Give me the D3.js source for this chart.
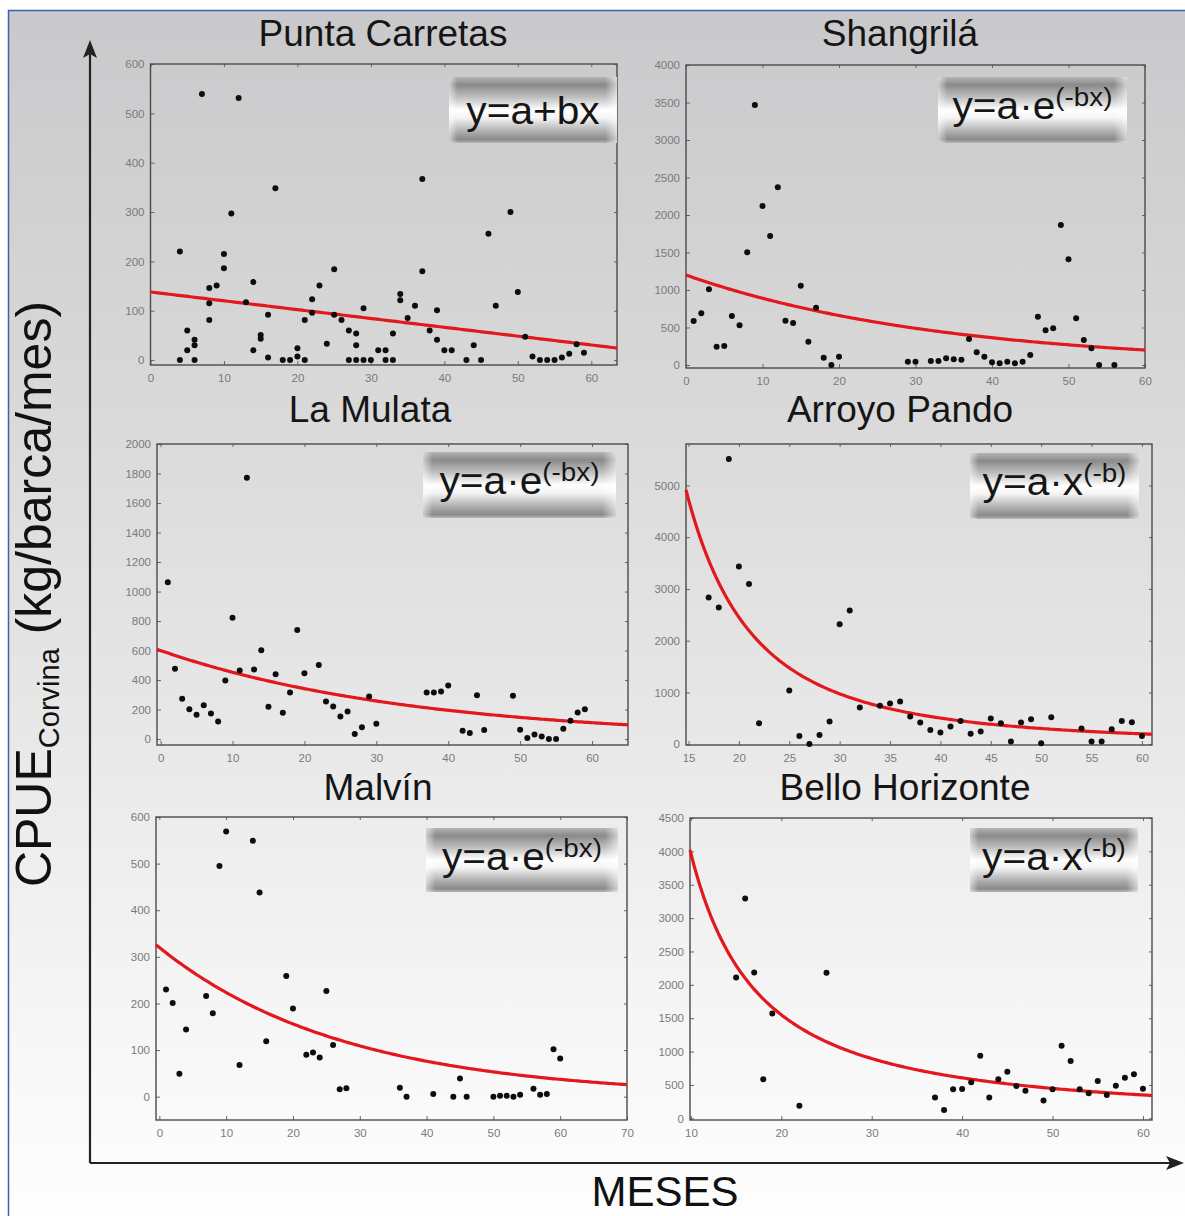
<!DOCTYPE html>
<html>
<head>
<meta charset="utf-8">
<script src="https://cdn.jsdelivr.net/npm/d3@7"></script>
<style>
  body { margin: 0; background: #fff; }
  svg { display: block; font-family: "Liberation Sans", Arial, sans-serif; }
</style>
</head>
<body>
<div id="chart"></div>
<script>
// ---- data: [mes, CPUE] ----
const puntaCarretas = [[4,0],[4,220],[5,20],[5,60],[6,41],[6,30],[6,0],[7,539],[8,146],[8,115],[8,81],[9,151],
  [10,215],[10,186],[11,297],[12,531],[13,117],[14,158],[14,20],[15,51],[15,43],[16,92],[16,5],[17,348],[18,0],
  [19,0],[20,24],[20,7],[21,0],[21,81],[22,123],[22,96],[23,151],[24,33],[25,184],[25,92],[26,81],[27,60],[27,0],
  [28,54],[28,30],[28,0],[29,105],[29,0],[30,0],[31,20],[32,20],[32,0],[33,54],[33,0],[34,134],[34,121],[35,85],
  [36,110],[37,367],[37,180],[38,60],[39,101],[39,41],[40,20],[41,20],[43,0],[44,30],[45,0],[46,256],[47,110],
  [49,300],[50,138],[51,47],[52,7],[53,0],[54,0],[55,0],[56,5],[57,13],[58,32],[59,15]]
const shangrila = [[1,587],[2,689],[3,1009],[4,244],[5,253],[6,653],[7,529],[8,1502],[9,3467],[10,2120],[11,1720],
  [12,2369],[13,591],[14,560],[15,1058],[16,311],[17,764],[18,98],[19,0],[20,111],[29,44],[30,44],[32,53],[33,53],
  [34,89],[35,76],[36,71],[37,347],[38,169],[39,111],[40,36],[41,22],[42,44],[43,22],[44,44],[45,133],[46,644],
  [47,462],[48,489],[49,1867],[50,1409],[51,622],[52,333],[53,222],[54,0],[56,0]]
const laMulata = [[1,1063],[2,476],[3,273],[4,203],[5,165],[6,230],[7,174],[8,120],[9,397],[10,822],[11,465],
  [12,1772],[13,472],[14,603],[15,219],[16,440],[17,178],[18,316],[19,740],[20,447],[22,503],[23,255],[24,221],
  [25,153],[26,187],[27,34],[28,81],[29,289],[30,104],[37,316],[38,316],[39,323],[40,363],[42,56],[43,41],[44,298],
  [45,61],[49,293],[50,63],[51,7],[52,32],[53,18],[54,0],[55,0],[56,70],[57,124],[58,181],[59,203]]
const arroyoPando = [[17,2835],[18,2642],[19,5509],[20,3434],[21,3093],[22,406],[25,1037],[26,161],[27,6],[28,180],
  [29,438],[30,2319],[31,2584],[32,709],[34,741],[35,786],[36,825],[37,535],[38,419],[39,277],[40,225],[41,341],
  [42,451],[43,200],[44,245],[45,496],[46,406],[47,52],[48,419],[49,483],[50,19],[51,522],[54,303],[55,52],[56,52],
  [57,290],[58,451],[59,425],[60,161]]
const malvin = [[1,230],[2,201],[3,49],[4,144],[7,216],[8,179],[9,495],[10,569],[12,68],[14,549],[15,438],[16,119],
  [19,259],[20,189],[22,90],[23,95],[24,84],[25,227],[26,111],[27,16],[28,18],[36,19],[37,0],[41,6],[44,0],[45,39],
  [46,0],[50,0],[51,2],[52,2],[53,0],[54,4],[56,17],[57,4],[58,6],[59,102],[60,82]]
const belloHorizonte = [[15,2111],[16,3293],[17,2186],[18,584],[19,1572],[22,190],[25,2181],[37,314],[38,125],
  [39,434],[40,439],[41,539],[42,938],[43,314],[44,584],[45,699],[46,484],[47,414],[49,269],[50,434],[51,1088],
  [52,858],[53,434],[54,374],[55,559],[56,349],[57,489],[58,609],[59,659],[60,444]]

const titles = ['Punta Carretas', 'Shangrilá', 'La Mulata', 'Arroyo Pando', 'Malvín', 'Bello Horizonte']
const series = [puntaCarretas, shangrila, laMulata, arroyoPando, malvin, belloHorizonte]
// fitted model per panel and its parameters a, b
const fitType = ['lin', 'exp', 'exp', 'pow', 'exp', 'pow']
const fitA = [138, 1200, 600, 2270000, 320, 89860]
const fitB = [-1.79, 0.0299, 0.0281, 2.28, 0.0359, 1.355]
const formula = [['y=a+bx', ''], ['y=a·e', '(-bx)'], ['y=a·e', '(-bx)'], ['y=a·x', '(-b)'], ['y=a·e', '(-bx)'], ['y=a·x', '(-b)']]
// axis ticks
const xTicks = [d3.range(0, 61, 10), d3.range(0, 61, 10), d3.range(0, 61, 10), d3.range(15, 61, 5), d3.range(0, 71, 10), d3.range(10, 61, 10)]
const yTicks = [d3.range(0, 601, 100), d3.range(0, 4001, 500), d3.range(0, 2001, 200), d3.range(0, 5001, 1000), d3.range(0, 601, 100), d3.range(0, 4501, 500)]
const xDomains = [[0, 63.5], [0, 60], [-0.5, 65], [14.75, 61], [-0.5, 70], [9.9, 61]]
const yDomains = [[-10, 600], [-40, 4000], [-40, 2000], [-15, 5800], [-50, 600], [-25, 4500]]

// ---- layout (pixels) ----
const frames = [
  { x0: 150.5, y0: 64, x1: 617, y1: 365, tx: 383, ty: 46, box: [449, 77, 168, 66] },
  { x0: 686, y0: 65, x1: 1145, y1: 368, tx: 900, ty: 46, box: [938, 77, 189, 66] },
  { x0: 157, y0: 444, x1: 628, y1: 745, tx: 370, ty: 422, box: [423, 452, 193, 66] },
  { x0: 686, y0: 444, x1: 1152, y1: 745, tx: 900, ty: 422, box: [970, 453, 169, 66] },
  { x0: 156, y0: 817, x1: 627, y1: 1120, tx: 378, ty: 800, box: [426, 828, 192, 64] },
  { x0: 690, y0: 818, x1: 1152, y1: 1120, tx: 905, ty: 800, box: [970, 828, 168, 64] }
]

const W = 1185, H = 1216
const svg = d3.select('#chart').append('svg')
    .attr('width', W)
    .attr('height', H)
const defs = svg.append('defs')

const bg = defs.append('linearGradient').attr('id', 'bgGrad')
    .attr('x1', 0).attr('y1', 0).attr('x2', 0).attr('y2', 1)
bg.selectAll('stop').data([[0, '#c9c9cb'], [0.3, '#d8d8d9'], [0.55, '#e6e6e6'], [0.8, '#f5f5f5'], [1, '#ffffff']])
  .join('stop').attr('offset', d => d[0]).attr('stop-color', d => d[1])

const metal = defs.append('linearGradient').attr('id', 'metal')
    .attr('x1', 0).attr('y1', 0).attr('x2', 0).attr('y2', 1)
metal.selectAll('stop').data([[0, '#b4b4b4'], [0.12, '#8a8a8a'], [0.3, '#bdbdbd'], [0.5, '#ffffff'], [0.62, '#f4f4f4'],
    [0.85, '#a6a6a6'], [0.95, '#8a8a8a'], [1, '#b8b8b8']])
  .join('stop').attr('offset', d => d[0]).attr('stop-color', d => d[1])

const sheen = defs.append('linearGradient').attr('id', 'sheen')
    .attr('x1', 0).attr('y1', 0).attr('x2', 1).attr('y2', 0)
sheen.selectAll('stop').data([[0, 0.55], [0.05, 0], [0.93, 0], [1, 0.6]])
  .join('stop').attr('offset', d => d[0]).attr('stop-color', '#fff').attr('stop-opacity', d => d[1])

// background with blue frame
svg.append('rect')
    .attr('x', 8.5).attr('y', 10.5)
    .attr('width', W + 20).attr('height', H + 20)
    .attr('fill', 'url(#bgGrad)')
    .attr('stroke', '#3f5fb4')
    .attr('stroke-width', 1.5)

// big axes with arrows
const axisG = svg.append('g').attr('class', 'bigAxes')
axisG.append('line').attr('x1', 90).attr('y1', 1163).attr('x2', 90).attr('y2', 50)
    .attr('stroke', '#222').attr('stroke-width', 2.2)
axisG.append('line').attr('x1', 90).attr('y1', 1163).attr('x2', 1172).attr('y2', 1163)
    .attr('stroke', '#222').attr('stroke-width', 2.2)
axisG.append('path').attr('d', 'M90,40 L83,58 L90,54 L97,58 Z').attr('fill', '#222')
axisG.append('path').attr('d', 'M1184,1163 L1166,1156 L1170,1163 L1166,1170 Z').attr('fill', '#222')

axisG.append('text')
    .attr('x', 665).attr('y', 1206)
    .attr('text-anchor', 'middle')
    .attr('font-size', 42)
    .attr('fill', '#111')
    .text('MESES')

const yLab = axisG.append('text')
    .attr('transform', 'translate(51,594) rotate(-90)')
    .attr('text-anchor', 'middle')
    .attr('font-size', 50)
    .attr('fill', '#111')
yLab.append('tspan').text('CPUE')
yLab.append('tspan').attr('font-size', 29).attr('dy', 8).text('Corvina')
yLab.append('tspan').attr('dy', -8).text(' (kg/barca/mes)')

// ---- panels ----
frames.forEach((f, i) => {
  const g = svg.append('g').attr('class', 'panel')
  const x = d3.scaleLinear().domain(xDomains[i]).range([f.x0, f.x1])
  const y = d3.scaleLinear().domain(yDomains[i]).range([f.y1, f.y0])

  g.append('text')
      .attr('x', f.tx).attr('y', f.ty)
      .attr('text-anchor', 'middle')
      .attr('font-size', 37)
      .attr('fill', '#151515')
      .text(titles[i])

  // axes, ticks inward
  g.append('g')
      .attr('transform', 'translate(0,' + f.y1 + ')')
      .call(d3.axisBottom(x).tickValues(xTicks[i]).tickSize(-4).tickPadding(9).tickFormat(d3.format('d')))
  g.append('g')
      .attr('transform', 'translate(' + f.x0 + ',0)')
      .call(d3.axisLeft(y).tickValues(yTicks[i]).tickSize(-4).tickPadding(6).tickFormat(d3.format('d')))
  g.append('g')
      .attr('transform', 'translate(0,' + f.y0 + ')')
      .call(d3.axisTop(x).tickValues(xTicks[i]).tickSize(-3).tickFormat(''))
  g.append('g')
      .attr('transform', 'translate(' + f.x1 + ',0)')
      .call(d3.axisRight(y).tickValues(yTicks[i]).tickSize(-3).tickFormat(''))
  g.selectAll('.domain').remove()
  g.selectAll('.tick line').attr('stroke', '#666')
  g.selectAll('.tick text')
      .attr('fill', '#7a7a7a')
      .attr('font-size', 11.5)
      .attr('font-family', '"Liberation Sans", Arial, sans-serif')

  g.append('rect')
      .attr('x', f.x0).attr('y', f.y0)
      .attr('width', f.x1 - f.x0).attr('height', f.y1 - f.y0)
      .attr('fill', 'none')
      .attr('stroke', '#4a4a4a')
      .attr('stroke-width', 1.4)

  // fitted curve
  const a = fitA[i], b = fitB[i]
  const model = fitType[i] === 'lin' ? (t => a + b * t)
    : fitType[i] === 'exp' ? (t => a * Math.exp(-b * t))
    : (t => a * Math.pow(t, -b))
  const xs = d3.range(0, 201).map(k => xDomains[i][0] + (xDomains[i][1] - xDomains[i][0]) * k / 200)
  g.append('path')
      .datum(xs.map(t => [t, model(t)]))
      .attr('fill', 'none')
      .attr('stroke', '#e3171c')
      .attr('stroke-width', 3.2)
      .attr('d', d3.line().x(d => x(d[0])).y(d => y(d[1])))

  g.selectAll('circle').data(series[i]).join('circle')
      .attr('cx', d => x(d[0]))
      .attr('cy', d => y(d[1]))
      .attr('r', 3)
      .attr('fill', '#0d0d0d')

  // formula box
  const [bx, by, bw, bh] = f.box
  g.append('rect').attr('x', bx).attr('y', by).attr('width', bw).attr('height', bh).attr('fill', 'url(#metal)')
  g.append('rect').attr('x', bx).attr('y', by).attr('width', bw).attr('height', bh).attr('fill', 'url(#sheen)')
  const hasSup = formula[i][1] !== ''
  const ft = g.append('text')
      .attr('transform', 'translate(' + (bx + bw / 2) + ',' + (by + (hasSup ? 42 : 47)) + ') scale(1.07,1)')
      .attr('text-anchor', 'middle')
      .attr('font-size', 38)
      .attr('fill', '#161616')
  ft.append('tspan').text(formula[i][0])
  if (hasSup) ft.append('tspan').attr('font-size', 26).attr('dy', -13).text(formula[i][1])
})
</script>
</body>
</html>
